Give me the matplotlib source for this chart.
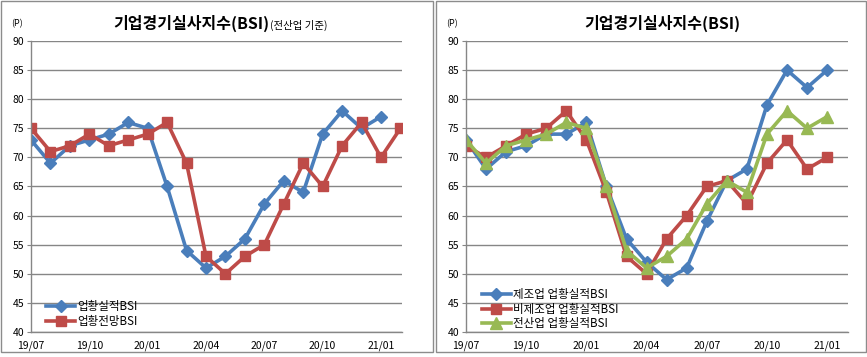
import matplotlib
matplotlib.use("Agg")
import matplotlib.pyplot as plt
from matplotlib.patches import Rectangle

plt.rcParams['font.family'] = ['Noto Sans CJK KR', 'DejaVu Sans']

# ---- data ----
tick_labels = ["19/07", "19/10", "20/01", "20/04", "20/07", "20/10", "21/01"]
tick_pos = [0, 3, 6, 9, 12, 15, 18]

# left chart (all industries)
actual_bsi = [73, 69, 72, 73, 74, 76, 75, 65, 54, 51, 53, 56, 62, 66, 64, 74, 78, 75, 77]
outlook_bsi = [75, 71, 72, 74, 72, 73, 74, 76, 69, 53, 50, 53, 55, 62, 69, 65, 72, 76, 70, 75]

# right chart
mfg_bsi = [73, 68, 71, 72, 74, 74, 76, 65, 56, 52, 49, 51, 59, 66, 68, 79, 85, 82, 85]
nonmfg_bsi = [72, 70, 72, 74, 75, 78, 73, 64, 53, 50, 56, 60, 65, 66, 62, 69, 73, 68, 70]
all_bsi = [73, 69, 72, 73, 74, 76, 75, 65, 54, 51, 53, 56, 62, 66, 64, 74, 78, 75, 77]

BLUE = "#4A7EBB"
RED = "#BE4B48"
GREEN = "#98B954"
GRID = "#868686"

W, H = 867, 357
fig = plt.figure(figsize=(W / 100, H / 100), dpi=100)


def px_axes(x0, x1, ytop, ybot):
    return fig.add_axes([x0 / W, (H - ybot) / H, (x1 - x0) / W, (ybot - ytop) / H])


def style(ax, xmax):
    ax.set_ylim(40, 90)
    ax.set_xlim(0, xmax)
    ax.set_yticks(range(40, 91, 5))
    ax.set_xticks(tick_pos)
    ax.set_xticklabels(tick_labels)
    ax.grid(axis='y', color=GRID, linewidth=1.0)
    ax.set_axisbelow(True)
    for s in ['top', 'right']:
        ax.spines[s].set_visible(False)
    for s in ['left', 'bottom']:
        ax.spines[s].set_color(GRID)
        ax.spines[s].set_linewidth(1.0)
    ax.tick_params(axis='y', length=3, color=GRID, labelsize=7.5, pad=2)
    ax.tick_params(axis='x', length=0, labelsize=7.5, pad=6)


lw = 2.6

# ---- left ----
ax1 = px_axes(31, 402, 41, 332)
style(ax1, 19.08)
x_a = list(range(len(actual_bsi)))
x_o = list(range(len(outlook_bsi)))
ax1.plot(x_a, actual_bsi, color=BLUE, lw=lw, marker='D', ms=6, mec=BLUE, label="업황실적BSI")
ax1.plot(x_o, outlook_bsi, color=RED, lw=lw, marker='s', ms=7.5, mec=RED, label="업황전망BSI")
ax1.legend(loc='lower left', bbox_to_anchor=(0.02, -0.015), frameon=False, fontsize=8.3,
           handlelength=2.5, handletextpad=0.2, labelspacing=0.2, borderpad=0.2)

t1 = fig.text(113 / W, 1 - 23 / H, "기업경기실사지수(BSI)", ha='left', va='center',
              fontsize=11.5, fontweight='bold')
fig.canvas.draw()
bb = t1.get_window_extent()
fig.text((bb.x1 + 1) / W, 1 - 25 / H, "(전산업 기준)", ha='left', va='center', fontsize=7.5)
fig.text(17 / W, 1 - 24 / H, "(P)", ha='center', va='center', fontsize=6.5)

# ---- right ----
ax2 = px_axes(466, 848, 41, 332)
style(ax2, 19.04)
x = list(range(len(mfg_bsi)))
ax2.plot(x, mfg_bsi, color=BLUE, lw=lw, marker='D', ms=6, mec=BLUE, label="제조업 업황실적BSI")
ax2.plot(x, nonmfg_bsi, color=RED, lw=lw, marker='s', ms=7.5, mec=RED, label="비제조업 업황실적BSI")
ax2.plot(x, all_bsi, color=GREEN, lw=lw, marker='^', ms=8, mec=GREEN, label="전산업 업황실적BSI")
ax2.legend(loc='lower left', bbox_to_anchor=(0.02, -0.02), frameon=False, fontsize=8.3,
           handlelength=2.5, handletextpad=0.2, labelspacing=0.1, borderpad=0.2)

fig.text(662 / W, 1 - 23 / H, "기업경기실사지수(BSI)", ha='center', va='center',
         fontsize=11.5, fontweight='bold')
fig.text(452 / W, 1 - 24 / H, "(P)", ha='center', va='center', fontsize=6.5)

# panel borders
for (x0, x1) in [(1, 433), (436, 866)]:
    fig.patches.append(Rectangle((x0 / W, (H - 352) / H), (x1 - x0) / W, 351 / H,
                                 transform=fig.transFigure, fill=False,
                                 edgecolor="#8C8C8C", linewidth=1.0))

fig.savefig("out.png", dpi=100)
